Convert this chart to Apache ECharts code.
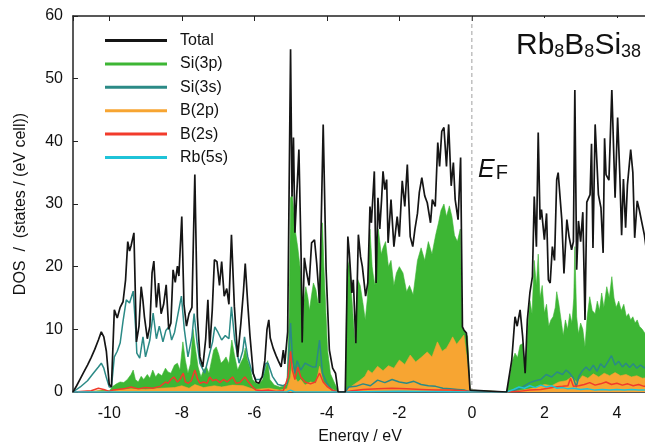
<!DOCTYPE html>
<html>
<head>
<meta charset="utf-8">
<script src="https://cdn.jsdelivr.net/npm/echarts@6/dist/echarts.min.js"></script>
<style>
  html, body { margin: 0; padding: 0; background: #fff; }
  #chart { width: 645px; height: 442px; }
</style>
</head>
<body>
<div id="chart"></div>
<script>
// energies in eV, DOS in states / (eV cell)
const total = [
  [-11.0, 0], [-10.9, 1.0], [-10.8, 2.1], [-10.7, 3.2], [-10.6, 4.3], [-10.5, 5.5], [-10.4, 6.8], [-10.3, 8.3],
  [-10.22, 9.6], [-10.15, 8.8], [-10.08, 6.5], [-10.0, 1.2], [-9.94, 0.8], [-9.86, 13.1], [-9.78, 11.8], [-9.7, 13.5],
  [-9.62, 14.4], [-9.55, 17.9], [-9.49, 24.0], [-9.44, 22.5], [-9.4, 23.3], [-9.32, 25.4], [-9.25, 8.0], [-9.18, 10.5],
  [-9.12, 16.8], [-9.07, 14.5], [-9.03, 12.0], [-8.95, 8.5], [-8.88, 10.5], [-8.82, 19.0], [-8.77, 20.9], [-8.7, 13.5],
  [-8.64, 17.4], [-8.57, 12.5], [-8.5, 14.0], [-8.43, 17.1], [-8.36, 10.0], [-8.3, 11.0], [-8.24, 19.5], [-8.18, 17.5],
  [-8.12, 20.1], [-8.08, 18.5], [-8.0, 28.0], [-7.94, 14.0], [-7.87, 10.5], [-7.8, 12.5], [-7.72, 13.5], [-7.64, 34.7],
  [-7.57, 12.0], [-7.5, 5.6], [-7.42, 4.0], [-7.34, 8.5], [-7.28, 14.7], [-7.23, 7.0], [-7.16, 13.0], [-7.1, 21.1],
  [-7.03, 20.8], [-6.96, 17.0], [-6.9, 20.8], [-6.83, 15.3], [-6.76, 16.5], [-6.7, 14.0], [-6.63, 25.1], [-6.55, 13.7],
  [-6.46, 5.6], [-6.37, 11.0], [-6.3, 16.0], [-6.25, 20.5], [-6.18, 14.0], [-6.12, 9.0], [-6.03, 3.0], [-5.95, 1.6],
  [-5.87, 1.4], [-5.78, 2.5], [-5.71, 5.0], [-5.65, 10.0], [-5.6, 11.5], [-5.56, 8.6], [-5.48, 7.0], [-5.4, 5.8],
  [-5.34, 5.0], [-5.26, 4.0], [-5.2, 6.7], [-5.16, 4.5], [-5.08, 9.6], [-5.0, 54.7], [-4.96, 31.2], [-4.92, 40.6],
  [-4.88, 25.4], [-4.83, 25.4], [-4.77, 38.7], [-4.71, 22.0], [-4.68, 7.9], [-4.62, 21.4], [-4.57, 19.5], [-4.49, 17.0],
  [-4.42, 23.8], [-4.34, 24.3], [-4.28, 20.6], [-4.2, 14.2], [-4.1, 42.7], [-4.02, 19.5], [-3.93, 6.7], [-3.84, 3.8],
  [-3.76, 3.0], [-3.69, 0], [-3.49, 0], [-3.42, 24.8], [-3.38, 22.2], [-3.31, 15.8], [-3.27, 17.9], [-3.2, 7.8],
  [-3.13, 25.1], [-3.07, 21.6], [-3.02, 20.0], [-2.93, 15.3], [-2.87, 17.4], [-2.81, 29.6], [-2.77, 27.0], [-2.69, 35.2],
  [-2.64, 17.4], [-2.59, 31.0], [-2.54, 26.0], [-2.49, 30.7], [-2.45, 35.2], [-2.4, 32.3], [-2.35, 33.9], [-2.31, 23.8],
  [-2.23, 30.7], [-2.15, 23.2], [-2.06, 28.0], [-2.0, 24.8], [-1.92, 33.7], [-1.85, 29.6], [-1.78, 36.3], [-1.7, 24.8],
  [-1.63, 23.2], [-1.57, 26.0], [-1.5, 28.5], [-1.45, 31.8], [-1.38, 34.2], [-1.3, 31.3], [-1.23, 30.2], [-1.14, 27.0],
  [-1.09, 30.7], [-1.01, 29.6], [-0.94, 39.8], [-0.89, 36.0], [-0.83, 41.6], [-0.77, 42.2], [-0.7, 36.0], [-0.64, 42.7],
  [-0.57, 32.9], [-0.51, 36.6], [-0.46, 30.7], [-0.38, 27.5], [-0.31, 37.4], [-0.26, 10.4], [-0.22, 9.9], [-0.15, 9.4],
  [-0.05, 0.3], [0.0, 0], [0.96, 0], [1.1, 5.1], [1.19, 12.0], [1.25, 10.5], [1.33, 13.1], [1.4, 8.9],
  [1.47, 3.0], [1.53, 11.5], [1.6, 15.8], [1.67, 18.4], [1.72, 31.2], [1.78, 23.2], [1.83, 41.4], [1.88, 27.5],
  [1.92, 29.1], [2.0, 24.3], [2.06, 28.5], [2.11, 17.9], [2.16, 17.4], [2.22, 23.2], [2.28, 21.0], [2.34, 33.9],
  [2.38, 35.0], [2.48, 27.5], [2.54, 18.9], [2.62, 27.5], [2.68, 24.8], [2.75, 22.7], [2.8, 24.0], [2.84, 48.3],
  [2.89, 19.5], [2.94, 27.3], [3.0, 24.0], [3.06, 28.7], [3.12, 11.5], [3.17, 30.3], [3.26, 31.5], [3.3, 39.6],
  [3.34, 23.0], [3.4, 42.7], [3.49, 31.5], [3.56, 29.4], [3.62, 22.2], [3.66, 40.5], [3.7, 34.7], [3.78, 33.8],
  [3.86, 48.3], [3.95, 31.0], [4.02, 43.8], [4.08, 34.7], [4.13, 25.0], [4.18, 34.0], [4.24, 26.2], [4.29, 33.0],
  [4.38, 38.7], [4.44, 35.0], [4.49, 24.6], [4.56, 30.5], [4.62, 29.0], [4.7, 26.7], [4.76, 25.0], [4.85, 21.0]
];

const si3p = [
  [-11, 0], [-10.4, 0.1], [-10.2, 0.3], [-10.0, 0.2], [-9.9, 0.9], [-9.8, 1.3], [-9.7, 1.6], [-9.6, 1.5],
  [-9.5, 2.0], [-9.4, 2.8], [-9.34, 3.5], [-9.28, 2.0], [-9.2, 1.6], [-9.12, 2.5], [-9.05, 2.0], [-8.95, 2.8],
  [-8.88, 2.2], [-8.8, 3.5], [-8.72, 2.4], [-8.65, 3.0], [-8.55, 2.6], [-8.45, 3.8], [-8.38, 3.2], [-8.3, 3.0],
  [-8.2, 4.3], [-8.12, 4.6], [-8.05, 3.5], [-7.97, 8.0], [-7.9, 5.0], [-7.83, 3.0], [-7.76, 4.5], [-7.69, 10.0],
  [-7.62, 6.8], [-7.55, 4.0], [-7.47, 2.4], [-7.4, 3.5], [-7.32, 4.0], [-7.25, 3.0], [-7.18, 5.0], [-7.12, 6.7],
  [-7.05, 7.2], [-6.98, 6.0], [-6.92, 4.6], [-6.85, 5.0], [-6.78, 5.6], [-6.7, 4.5], [-6.62, 8.3], [-6.55, 6.0],
  [-6.46, 3.5], [-6.38, 4.6], [-6.3, 5.5], [-6.25, 7.0], [-6.18, 5.0], [-6.12, 4.0], [-6.05, 2.0], [-5.95, 1.4],
  [-5.85, 1.4], [-5.77, 2.0], [-5.7, 3.5], [-5.63, 5.0], [-5.57, 2.0], [-5.45, 1.1], [-5.3, 0.8], [-5.2, 0.9],
  [-5.1, 1.2], [-5.04, 12.0], [-5.0, 31.0], [-4.95, 31.5], [-4.9, 28.0], [-4.86, 25.4], [-4.8, 23.0], [-4.74, 20.0],
  [-4.7, 17.4], [-4.67, 8.0], [-4.63, 14.7], [-4.58, 16.8], [-4.52, 15.0], [-4.48, 13.0], [-4.42, 15.5], [-4.37, 17.4],
  [-4.3, 16.3], [-4.24, 14.0], [-4.18, 20.0], [-4.12, 27.0], [-4.08, 20.0], [-4.02, 12.0], [-3.98, 6.7], [-3.9, 2.9],
  [-3.8, 1.6], [-3.72, 0.6], [-3.69, 0], [-3.49, 0], [-3.44, 19.5], [-3.38, 21.0], [-3.32, 15.8], [-3.27, 16.0],
  [-3.22, 7.5], [-3.15, 18.0], [-3.08, 17.0], [-3.0, 14.0], [-2.94, 11.5], [-2.88, 15.0], [-2.81, 26.0], [-2.75, 20.0],
  [-2.68, 17.0], [-2.62, 22.0], [-2.58, 26.0], [-2.5, 22.0], [-2.45, 23.0], [-2.38, 24.0], [-2.3, 20.0], [-2.23, 21.0],
  [-2.15, 17.0], [-2.08, 19.0], [-2.0, 20.0], [-1.9, 19.0], [-1.8, 16.0], [-1.72, 17.0], [-1.62, 15.5], [-1.5, 21.0],
  [-1.4, 23.0], [-1.3, 21.0], [-1.2, 24.0], [-1.1, 22.0], [-1.0, 25.0], [-0.92, 27.0], [-0.85, 29.0], [-0.77, 30.0],
  [-0.7, 28.0], [-0.62, 29.7], [-0.55, 28.0], [-0.48, 25.0], [-0.4, 24.0], [-0.32, 26.0], [-0.27, 10.4], [-0.2, 9.6],
  [-0.12, 8.9], [-0.05, 0.3], [0, 0], [0.96, 0], [1.05, 2.5], [1.12, 5.0], [1.19, 6.2], [1.26, 5.5],
  [1.33, 7.5], [1.4, 7.7], [1.47, 3.0], [1.53, 9.0], [1.6, 14.6], [1.66, 12.5], [1.72, 21.0], [1.78, 17.0],
  [1.83, 22.0], [1.88, 15.0], [1.94, 17.0], [2.0, 12.6], [2.06, 14.0], [2.12, 10.5], [2.18, 11.5], [2.24, 12.0],
  [2.3, 13.5], [2.34, 16.0], [2.4, 14.0], [2.46, 11.5], [2.52, 9.0], [2.58, 11.5], [2.64, 10.0], [2.7, 12.5],
  [2.76, 11.0], [2.81, 15.0], [2.84, 23.2], [2.89, 12.0], [2.94, 9.3], [3.0, 11.0], [3.06, 10.0], [3.12, 7.2],
  [3.18, 12.0], [3.25, 15.2], [3.32, 13.0], [3.4, 12.5], [3.46, 14.5], [3.52, 13.0], [3.58, 15.8], [3.64, 13.5],
  [3.72, 16.8], [3.79, 15.0], [3.86, 18.4], [3.92, 15.0], [3.98, 13.5], [4.05, 14.5], [4.12, 13.0], [4.19, 14.0],
  [4.26, 12.0], [4.32, 12.5], [4.38, 11.5], [4.44, 12.0], [4.5, 11.0], [4.56, 11.5], [4.62, 10.5], [4.7, 10.0],
  [4.78, 9.3], [4.85, 9.0]
];

const si3s = [
  [-11, 0], [-10.8, 0.8], [-10.6, 1.8], [-10.45, 2.9], [-10.3, 4.0], [-10.22, 4.6], [-10.15, 3.8], [-10.08, 2.3],
  [-10.0, 0.8], [-9.94, 0.8], [-9.86, 5.6], [-9.78, 6.5], [-9.7, 7.8], [-9.62, 11.3], [-9.53, 14.7], [-9.44, 14.2],
  [-9.34, 16.1], [-9.27, 10.0], [-9.24, 6.2], [-9.16, 5.4], [-9.07, 8.8], [-9.0, 5.6], [-8.88, 8.3], [-8.79, 12.6],
  [-8.7, 8.5], [-8.62, 10.5], [-8.52, 8.0], [-8.44, 9.8], [-8.35, 10.4], [-8.28, 8.3], [-8.2, 9.5], [-8.1, 12.6],
  [-8.01, 15.3], [-7.93, 10.0], [-7.83, 5.6], [-7.72, 8.8], [-7.66, 12.5], [-7.58, 8.0], [-7.5, 4.6], [-7.37, 3.0],
  [-7.23, 6.2], [-7.15, 8.0], [-7.09, 10.4], [-7.0, 9.5], [-6.9, 8.3], [-6.8, 9.0], [-6.7, 8.5], [-6.63, 13.6],
  [-6.54, 8.3], [-6.42, 4.6], [-6.32, 6.5], [-6.27, 8.8], [-6.18, 5.6], [-6.08, 3.5], [-5.96, 2.0], [-5.85, 2.0],
  [-5.77, 2.4], [-5.68, 4.6], [-5.62, 4.6], [-5.5, 2.5], [-5.35, 1.2], [-5.2, 1.0], [-5.09, 1.4], [-5.0, 11.0],
  [-4.95, 5.6], [-4.88, 3.0], [-4.82, 5.0], [-4.72, 3.5], [-4.6, 4.6], [-4.5, 4.3], [-4.4, 4.0], [-4.3, 4.0],
  [-4.2, 8.3], [-4.12, 3.0], [-4.0, 1.4], [-3.85, 0.3], [-3.69, 0], [-3.49, 0], [-3.4, 0.8], [-3.2, 0.9],
  [-3.0, 1.3], [-2.8, 1.0], [-2.6, 1.9], [-2.4, 1.5], [-2.2, 2.0], [-2.0, 1.6], [-1.8, 1.4], [-1.6, 1.7],
  [-1.4, 1.2], [-1.2, 1.0], [-1.0, 0.9], [-0.8, 0.6], [-0.6, 0.5], [-0.4, 0.4], [-0.2, 0.3], [0, 0],
  [0.96, 0], [1.2, 0.3], [1.4, 0.8], [1.6, 1.5], [1.75, 1.8], [1.9, 2.0], [2.05, 2.8], [2.2, 2.4],
  [2.35, 3.2], [2.5, 2.8], [2.6, 3.5], [2.7, 3.0], [2.8, 2.2], [2.88, 0.8], [2.95, 2.5], [3.05, 3.4],
  [3.15, 4.0], [3.25, 3.4], [3.35, 4.3], [3.45, 3.3], [3.55, 4.5], [3.65, 3.9], [3.75, 4.8], [3.85, 5.8],
  [3.95, 4.3], [4.05, 4.9], [4.15, 4.0], [4.25, 4.6], [4.35, 3.9], [4.45, 4.5], [4.55, 3.8], [4.65, 4.3],
  [4.75, 3.9], [4.85, 3.7]
];

const b2p = [
  [-11, 0], [-10.3, 0.2], [-10.0, 0.1], [-9.8, 0.3], [-9.4, 0.5], [-9.0, 0.4], [-8.6, 0.6], [-8.2, 0.7],
  [-8.0, 1.0], [-7.8, 0.6], [-7.64, 1.2], [-7.4, 0.7], [-7.1, 1.0], [-6.9, 0.8], [-6.6, 1.1], [-6.3, 1.0],
  [-6.0, 0.4], [-5.6, 0.6], [-5.3, 0.3], [-5.1, 0.5], [-5.0, 2.4], [-4.96, 4.6], [-4.9, 2.5], [-4.8, 1.6],
  [-4.72, 2.0], [-4.6, 1.1], [-4.45, 1.6], [-4.3, 1.4], [-4.2, 4.1], [-4.1, 1.6], [-3.95, 0.8], [-3.8, 0.3],
  [-3.69, 0], [-3.49, 0], [-3.4, 0.6], [-3.25, 1.2], [-3.1, 1.8], [-2.95, 2.5], [-2.86, 3.5], [-2.75, 3.0],
  [-2.6, 4.1], [-2.45, 3.4], [-2.3, 4.2], [-2.15, 3.8], [-2.0, 5.1], [-1.85, 4.4], [-1.7, 5.9], [-1.55, 4.8],
  [-1.4, 5.5], [-1.23, 6.4], [-1.1, 5.6], [-0.95, 8.0], [-0.82, 6.5], [-0.7, 7.0], [-0.6, 8.0], [-0.53, 8.8],
  [-0.42, 7.6], [-0.3, 8.5], [-0.22, 9.1], [-0.12, 4.5], [-0.05, 0.3], [0, 0], [0.96, 0], [1.3, 0.2],
  [1.6, 0.5], [1.8, 0.8], [2.0, 1.2], [2.2, 1.0], [2.4, 1.6], [2.6, 1.8], [2.75, 2.4], [2.9, 1.5],
  [3.05, 2.6], [3.2, 2.2], [3.35, 2.9], [3.5, 2.4], [3.65, 3.0], [3.8, 2.6], [3.95, 3.1], [4.1, 2.6],
  [4.25, 2.8], [4.4, 2.4], [4.55, 2.6], [4.7, 2.2], [4.85, 2.3]
];

const b2s = [
  [-11, 0], [-10.5, 0.2], [-10.3, 0.6], [-10.15, 0.4], [-10.0, 0.1], [-9.9, 0.3], [-9.6, 0.5], [-9.4, 0.8],
  [-9.2, 0.5], [-9.0, 0.7], [-8.8, 0.6], [-8.6, 0.9], [-8.45, 1.6], [-8.38, 1.4], [-8.3, 2.0], [-8.22, 2.4],
  [-8.12, 1.6], [-8.05, 2.0], [-7.96, 3.0], [-7.9, 1.6], [-7.82, 1.4], [-7.74, 1.8], [-7.64, 3.5], [-7.56, 2.0],
  [-7.5, 1.4], [-7.4, 1.6], [-7.3, 1.4], [-7.23, 2.4], [-7.15, 1.8], [-7.05, 2.0], [-6.95, 1.5], [-6.85, 2.0],
  [-6.75, 1.6], [-6.6, 2.4], [-6.5, 1.4], [-6.4, 1.5], [-6.26, 2.4], [-6.15, 1.5], [-6.05, 0.8], [-5.95, 0.3],
  [-5.8, 0.2], [-5.6, 0.3], [-5.4, 0.1], [-5.2, 0.2], [-5.07, 2.4], [-5.0, 6.5], [-4.95, 3.5], [-4.88, 2.0],
  [-4.8, 4.0], [-4.72, 2.4], [-4.6, 1.6], [-4.45, 1.3], [-4.32, 1.6], [-4.2, 3.0], [-4.1, 1.6], [-3.98, 0.8],
  [-3.85, 0.3], [-3.69, 0], [-3.49, 0], [-3.3, 0.2], [-3.0, 0.4], [-2.6, 0.5], [-2.2, 0.6], [-1.8, 0.5],
  [-1.4, 0.4], [-1.0, 0.3], [-0.6, 0.3], [-0.2, 0.2], [0, 0], [0.96, 0], [1.3, 0.1], [1.6, 0.3],
  [1.9, 0.4], [2.1, 0.6], [2.3, 0.8], [2.5, 0.9], [2.65, 1.0], [2.72, 2.2], [2.8, 0.9], [2.95, 1.0],
  [3.1, 1.2], [3.25, 1.5], [3.4, 1.1], [3.55, 1.3], [3.7, 1.6], [3.85, 1.2], [4.0, 1.4], [4.15, 1.1],
  [4.3, 1.3], [4.45, 1.0], [4.6, 1.2], [4.75, 0.9], [4.85, 1.0]
];

const rb5s = [
  [-11, 0], [-5.1, 0.05], [-5.0, 0.3], [-4.9, 0.05], [-3.69, 0], [-3.49, 0], [-2.0, 0.1], [0, 0],
  [0.96, 0], [1.15, 0.4], [1.3, 0.8], [1.45, 0.6], [1.6, 1.0], [1.75, 0.7], [1.9, 1.1], [2.05, 0.8],
  [2.2, 1.0], [2.35, 0.6], [2.5, 0.7], [2.65, 0.5], [2.8, 0.6], [3.0, 0.4], [3.2, 0.5], [3.4, 0.3],
  [3.6, 0.4], [3.8, 0.3], [4.0, 0.4], [4.2, 0.3], [4.4, 0.4], [4.6, 0.3], [4.85, 0.3]
];

// Fermi level marker (dashed)
const fermi = [[0, 0], [0, 60]];

const names = ["Total", "Si(3p)", "Si(3s)", "B(2p)", "B(2s)", "Rb(5s)"];
const colors = ["#151515", "#3db634", "#2b8a86", "#f7a532", "#f23b2b", "#1fc3d8"];

const chart = echarts.init(document.getElementById("chart"));
const font = "Liberation Sans, Arial, sans-serif";

function curve(i, data, z, area) {
  return {
    name: names[i],
    type: "line",
    data: data,
    z: z,
    symbol: "none",
    sampling: "none",
    color: colors[i],
    lineStyle: { color: colors[i], width: area ? 0.6 : (i === 0 ? 1.7 : 1.5) },
    areaStyle: area ? { color: colors[i], opacity: 1 } : undefined
  };
}

const series = [
  {
    name: "EF",
    type: "line",
    data: fermi,
    z: 1,
    symbol: "none",
    silent: true,
    lineStyle: { color: "#a0a0a0", width: 1, type: [4, 3] }
  },
  curve(1, si3p, 2, true),
  curve(3, b2p, 3, true),
  curve(2, si3s, 4, false),
  curve(4, b2s, 5, false),
  curve(5, rb5s, 6, false),
  curve(0, total, 7, false)
];

chart.setOption({
  animation: false,
  textStyle: { fontFamily: font },
  grid: { left: 73, top: 16, right: -2, bottom: 50, outerBoundsMode: "none" },
  legend: {
    data: names,
    orient: "vertical",
    left: 100,
    top: 27,
    icon: "rect",
    itemWidth: 62,
    itemHeight: 3,
    itemGap: 6.4,
    textStyle: { fontSize: 16, lineHeight: 17, color: "#111", fontFamily: font, padding: [0, 0, 0, 8] }
  },
  xAxis: [{
    type: "value",
    min: -11,
    max: 4.83,
    splitNumber: 8,
    name: "Energy / eV",
    nameLocation: "middle",
    nameGap: 37,
    nameTextStyle: { fontSize: 16, color: "#111" },
    axisLine: { lineStyle: { color: "#222", width: 1.5 } },
    axisTick: { show: false },
    axisLabel: { fontSize: 16, color: "#111", margin: 14, showMinLabel: false, showMaxLabel: false },
    splitLine: { show: false }
  }, {
    type: "value",
    position: "top",
    min: -11,
    max: 4.83,
    splitNumber: 8,
    axisLine: { show: true, lineStyle: { color: "#222", width: 1.5 } },
    axisTick: { show: true, inside: true, length: 5, lineStyle: { color: "#222" } },
    axisLabel: { show: false },
    splitLine: { show: false }
  }],
  yAxis: {
    type: "value",
    min: 0,
    max: 60,
    interval: 10,
    name: "DOS  /  (states / (eV cell))",
    nameLocation: "middle",
    nameGap: 44,
    nameTextStyle: { fontSize: 16, color: "#111" },
    axisLine: { show: true, onZero: false, lineStyle: { color: "#222", width: 1.5 } },
    axisTick: { show: true, inside: true, length: 5, lineStyle: { color: "#222" } },
    axisLabel: { fontSize: 16, color: "#111", margin: 10 },
    splitLine: { show: false }
  },
  graphic: [
    {
      type: "rect",
      z: 100,
      shape: { x: 507, y: 18, width: 140, height: 72 },
      style: { fill: "#fff" }
    },
    {
      type: "text",
      z: 101,
      x: 516,
      y: 31,
      style: {
        text: "{m|Rb}{s|8}{m|B}{s|8}{m|Si}{s|38}",
        fill: "#111",
        font: "30px " + font,
        rich: {
          m: { fontSize: 30, lineHeight: 30, verticalAlign: "top", padding: [0, 0, 6, 0], fill: "#111", fontFamily: font },
          s: { fontSize: 18, lineHeight: 18, verticalAlign: "bottom", fill: "#111", fontFamily: font }
        }
      }
    },
    {
      type: "text",
      z: 101,
      x: 476,
      y: 156,
      style: {
        text: "{e|E}{f|F}",
        backgroundColor: "#fff",
        padding: [2, 4, 2, 2],
        fill: "#111",
        rich: {
          e: { fontSize: 25, lineHeight: 25, fontStyle: "italic", verticalAlign: "top", padding: [0, 1, 6, 0], fill: "#111", fontFamily: font },
          f: { fontSize: 20, lineHeight: 20, verticalAlign: "bottom", fill: "#111", fontFamily: font }
        }
      }
    }
  ],
  series: series
});
</script>
</body>
</html>
